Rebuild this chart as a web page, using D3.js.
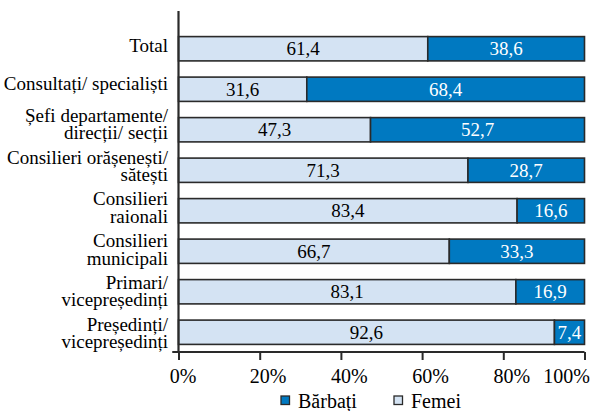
<!DOCTYPE html>
<html><head><meta charset="utf-8">
<script src="https://cdn.jsdelivr.net/npm/d3@7"></script>
</head><body style="margin:0">
<svg id="c" width="592" height="411" style="display:block"></svg>
<script>
const categories = [
  ["Total"],
  ["Consultați/ specialiști"],
  ["Șefi departamente/", "direcții/ secții"],
  ["Consilieri orășenești/", "sătești"],
  ["Consilieri", "raionali"],
  ["Consilieri", "municipali"],
  ["Primari/", "vicepreședinți"],
  ["Președinți/", "vicepreședinți"]
];
const femei   = [61.4, 31.6, 47.3, 71.3, 83.4, 66.7, 83.1, 92.6];
const barbati = [38.6, 68.4, 52.7, 28.7, 16.6, 33.3, 16.9, 7.4];
const xTicks  = [0, 20, 40, 60, 80, 100];
const seriesNames = ["Bărbați", "Femei"];

const FONT = '"Liberation Serif", serif';
const svg = d3.select("#c");
const colBlue = "#0079c1", colLight = "#d4e3f3", colLine = "#2a2a2a";

const x = d3.scaleLinear().domain([0, 100]).range([178.5, 584.5]);
const y = d3.scaleBand().domain(d3.range(categories.length)).range([28.5, 352.5]).paddingInner(0.4).paddingOuter(0.2);

const g = svg.append("g");
const rows = g.selectAll("g.row").data(categories.map((c, i) => i)).join("g");

rows.append("rect")
  .attr("x", d => x(0)).attr("y", d => y(d))
  .attr("width", d => x(femei[d]) - x(0)).attr("height", y.bandwidth())
  .attr("fill", colLight).attr("stroke", colLine).attr("stroke-width", 1.6);
rows.append("rect")
  .attr("x", d => x(femei[d])).attr("y", d => y(d))
  .attr("width", d => x(femei[d] + barbati[d]) - x(femei[d])).attr("height", y.bandwidth())
  .attr("fill", colBlue).attr("stroke", colLine).attr("stroke-width", 1.6);

const fmt = v => v.toFixed(1).replace(".", ",");
rows.append("text")
  .attr("x", d => (x(0) + x(femei[d])) / 2).attr("y", d => y(d) + y.bandwidth() / 2 + 6.5)
  .attr("text-anchor", "middle").style("font-family", FONT).style("font-size", "19px")
  .text(d => fmt(femei[d]));
rows.append("text")
  .attr("x", d => (x(femei[d]) + x(100)) / 2).attr("y", d => y(d) + y.bandwidth() / 2 + 6.5)
  .attr("text-anchor", "middle").style("font-family", FONT).style("font-size", "19px").style("fill", "#fff")
  .text(d => fmt(barbati[d]));

// category labels; size fitted so the widest line spans the left margin like the reference
const probe = svg.append("text").style("font-family", FONT).style("font-size", "18px").text("Consultați/ specialiști");
const w18 = probe.node().getComputedTextLength();
probe.remove();
const labelSize = Math.max(16, Math.min(19, Math.round(18 * 160 / w18)));

rows.each(function(d) {
  const lines = categories[d];
  const cy = y(d) + y.bandwidth() / 2;
  const lh = 17.5;
  const first = lines.length === 1 ? cy + (d === 0 ? 3 : 1) : cy - 8 + 1.3 * (d - 2);
  const t = d3.select(this).append("text")
    .attr("text-anchor", "end").style("font-family", FONT).style("font-size", labelSize + "px");
  lines.forEach((ln, k) => {
    t.append("tspan").attr("x", 168).attr("y", first + k * lh).text(ln);
  });
});

const xAxis = d3.axisBottom(x).tickValues(xTicks).tickFormat(d => d + "%").tickSize(8).tickPadding(5);
const ax = svg.append("g").attr("transform", "translate(0,352)").call(xAxis);
ax.attr("font-family", null).attr("font-size", null);
ax.select(".domain").attr("stroke", colLine).attr("stroke-width", 2.2).attr("d", `M${x(0)-6},0H${x(100)}`);
ax.selectAll(".tick line").attr("stroke", colLine).attr("stroke-width", 2);
ax.selectAll(".tick text").attr("fill", "#000")
  .style("font-family", FONT).style("font-size", "20px")
  .attr("dy", "1em").attr("y", 11)
  .attr("text-anchor", d => d === 100 ? "end" : "middle")
  .attr("dx", d => d === 100 ? 5 : (d === 0 ? 4 : 8));

svg.append("line").attr("x1", x(0)).attr("x2", x(0)).attr("y1", 11).attr("y2", 353)
  .attr("stroke", colLine).attr("stroke-width", 2.2);
svg.append("line").attr("x1", x(0) - 6).attr("x2", x(0)).attr("y1", 352).attr("y2", 352)
  .attr("stroke", colLine).attr("stroke-width", 2);

const legend = svg.append("g");
const legItems = [{name: seriesNames[0], c: colBlue, x: 281}, {name: seriesNames[1], c: colLight, x: 394}];
legItems.forEach(it => {
  legend.append("rect").attr("x", it.x).attr("y", 396).attr("width", 8.5).attr("height", 8.5)
    .attr("fill", it.c).attr("stroke", colLine).attr("stroke-width", 1.3);
  legend.append("text").attr("x", it.x + 17).attr("y", 408)
    .style("font-family", FONT).style("font-size", "20px").text(it.name);
});
</script>
</body></html>
